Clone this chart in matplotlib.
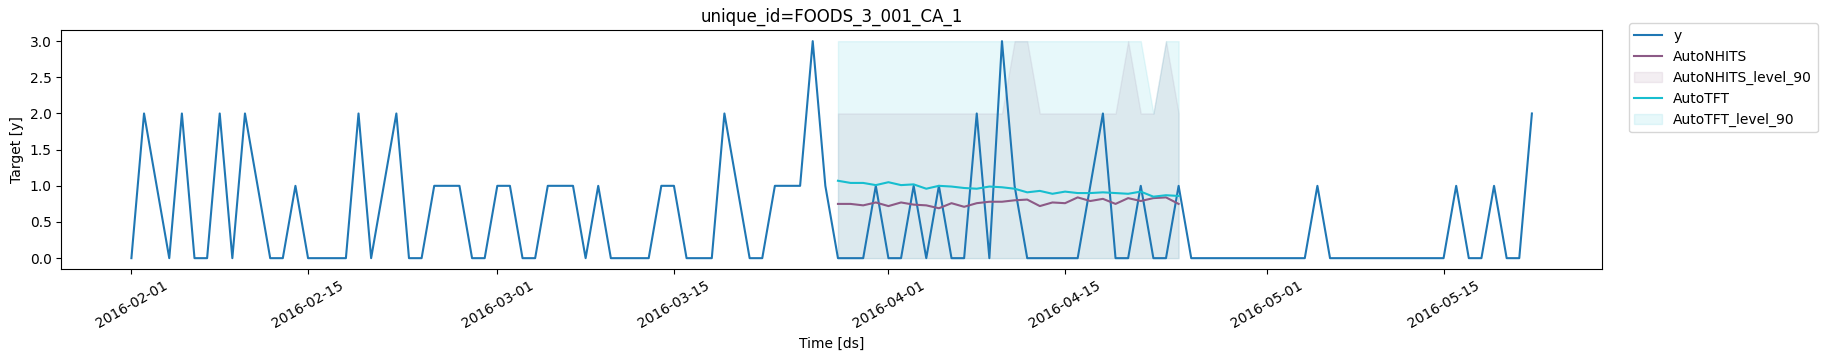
import matplotlib
matplotlib.use("Agg")
import matplotlib.pyplot as plt
import matplotlib.dates as mdates
import pandas as pd

# observed series, daily from 2016-02-01
y_values = [0, 2, 1, 0, 2, 0, 0, 2, 0, 2, 1, 0, 0, 1, 0, 0, 0, 0, 2, 0,
            1, 2, 0, 0, 1, 1, 1, 0, 0, 1, 1, 0, 0, 1, 1, 1, 0, 1, 0, 0,
            0, 0, 1, 1, 0, 0, 0, 2, 1, 0, 0, 1, 1, 1, 3, 1, 0, 0, 0, 1,
            0, 0, 1, 0, 1, 0, 0, 2, 0, 3, 1, 0, 0, 0, 0, 0, 1, 2, 0, 0,
            1, 0, 0, 1, 0, 0, 0, 0, 0, 0, 0, 0, 0, 0, 1, 0, 0, 0, 0, 0,
            0, 0, 0, 0, 0, 1, 0, 0, 1, 0, 0, 2]
y_dates = pd.date_range("2016-02-01", periods=len(y_values), freq="D")

# forecasts, 28 days from 2016-03-28
fc_dates = pd.date_range("2016-03-28", periods=28, freq="D")
nhits = [0.75, 0.75, 0.73, 0.77, 0.72, 0.77, 0.74, 0.73, 0.69, 0.76,
         0.71, 0.76, 0.78, 0.78, 0.80, 0.81, 0.72, 0.77, 0.76, 0.84,
         0.79, 0.82, 0.75, 0.83, 0.79, 0.83, 0.84, 0.75]
nhits_lo = [0] * 28
nhits_hi = [2, 2, 2, 2, 2, 2, 2, 2, 2, 2, 2, 2, 2, 2, 3, 3, 2, 2, 2, 2,
            2, 2, 2, 3, 2, 2, 3, 2]
tft = [1.07, 1.04, 1.04, 1.01, 1.05, 1.01, 1.02, 0.96, 1.00, 0.99,
       0.97, 0.96, 0.99, 0.98, 0.96, 0.91, 0.93, 0.89, 0.92, 0.90,
       0.90, 0.91, 0.90, 0.89, 0.92, 0.85, 0.87, 0.86]
tft_lo = [0] * 28
tft_hi = [3] * 24 + [3, 2, 3, 3]

c_y = '#1f77b4'
c_nhits = '#8c5a86'
c_tft = '#17becf'

fig = plt.figure(figsize=(18.27, 3.61), dpi=100)
ax = fig.add_axes([0.0336, 0.2548, 0.8432, 0.6613])

ax.plot(y_dates, y_values, color=c_y, label='y')
ax.plot(fc_dates, nhits, color=c_nhits, label='AutoNHITS')
ax.fill_between(fc_dates, nhits_lo, nhits_hi, color=c_nhits, alpha=0.1,
                label='AutoNHITS_level_90')
ax.plot(fc_dates, tft, color=c_tft, label='AutoTFT')
ax.fill_between(fc_dates, tft_lo, tft_hi, color=c_tft, alpha=0.1,
                label='AutoTFT_level_90')

ax.xaxis.set_major_locator(mdates.DayLocator(bymonthday=[1, 15]))
ax.xaxis.set_major_formatter(mdates.DateFormatter('%Y-%m-%d'))
ax.tick_params(axis='x', labelrotation=30)

ax.set_title('unique_id=FOODS_3_001_CA_1')
ax.set_xlabel('Time [ds]')
ax.set_ylabel('Target [y]')
ax.legend(loc='upper left', bbox_to_anchor=(1.0175, 1.03), borderaxespad=0)

fig.savefig('out.png', dpi=100)
